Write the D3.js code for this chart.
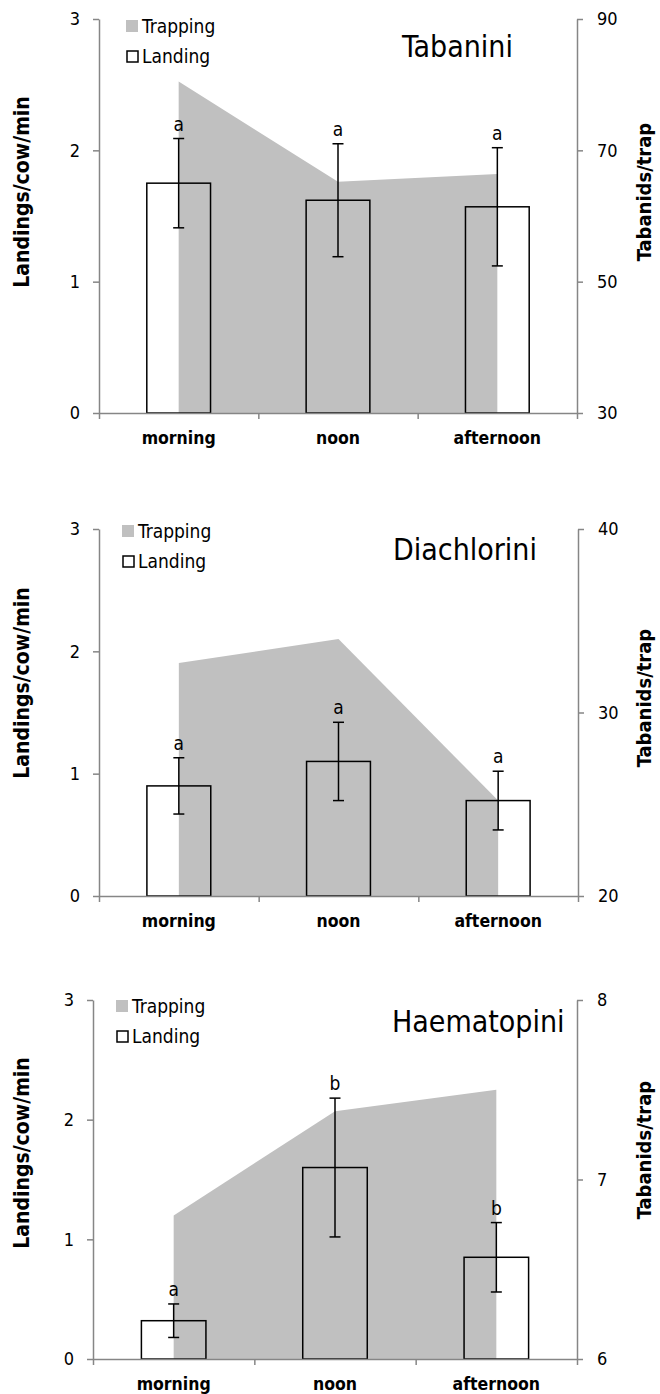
<!DOCTYPE html>
<html>
<head>
<meta charset="utf-8">
<script src="https://cdn.jsdelivr.net/npm/d3@7"></script>
<style>
  html, body { margin: 0; padding: 0; background: #ffffff; }
  svg { display: block; }
  text { font-family: "DejaVu Sans Condensed", "DejaVu Sans", sans-serif; font-stretch: condensed; fill: #000; }
</style>
</head>
<body>
<svg id="chart" width="660" height="1394"></svg>
<script>
// ---------------- data ----------------
const categories = ["morning", "noon", "afternoon"];
const leftTicks = [0, 1, 2, 3];

const tabaniniLanding = [1.75, 1.62, 1.57];
const tabaniniError   = [0.34, 0.43, 0.45];
const tabaniniTrap    = [80.5, 65.2, 66.4];
const tabaniniLetters = ["a", "a", "a"];
const tabaniniRightTicks = [30, 50, 70, 90];

const diachLanding = [0.90, 1.10, 0.78];
const diachError   = [0.23, 0.32, 0.24];
const diachTrap    = [32.7, 34.0, 25.2];
const diachLetters = ["a", "a", "a"];
const diachRightTicks = [20, 30, 40];

const haemLanding = [0.32, 1.60, 0.85];
const haemError   = [0.14, 0.58, 0.29];
const haemTrap    = [6.8, 7.38, 7.5];
const haemLetters = ["a", "b", "b"];
const haemRightTicks = [6, 7, 8];

const titles = ["Tabanini", "Diachlorini", "Haematopini"];
const legendLabels = ["Trapping", "Landing"];
const leftAxisTitle = "Landings/cow/min";
const rightAxisTitle = "Tabanids/trap";

// ---------------- layout (positions / styles) ----------------
const layouts = [
  { left: 99, right: 577, top: 19,   bottom: 413,  titleX: 402, titleY: 57,   legX: 126, legY: 19,   ltC: 192,  rtC: 192 },
  { left: 99, right: 578, top: 529,  bottom: 896,  titleX: 393, titleY: 560,  legX: 122, legY: 524,  ltC: 683,  rtC: 698 },
  { left: 93, right: 577, top: 1000, bottom: 1359, titleX: 392, titleY: 1032, legX: 116, legY: 999,  ltC: 1153, rtC: 1150 }
];
const panelsData = [
  { landing: tabaniniLanding, err: tabaniniError, trap: tabaniniTrap, letters: tabaniniLetters, rTicks: tabaniniRightTicks, title: titles[0] },
  { landing: diachLanding,    err: diachError,    trap: diachTrap,    letters: diachLetters,    rTicks: diachRightTicks,    title: titles[1] },
  { landing: haemLanding,     err: haemError,     trap: haemTrap,     letters: haemLetters,     rTicks: haemRightTicks,     title: titles[2] }
];

const AREA = "#c0c0c0";
const AXIS = "#868686";

const svg = d3.select("#chart");

panelsData.forEach((p, i) => {
  const L = layouts[i];
  const g = svg.append("g");

  const x = d3.scaleBand().domain(categories).range([L.left, L.right]).padding(0);
  const xb = d3.scaleLinear().domain([0, categories.length]).range([L.left, L.right]);
  const yL = d3.scaleLinear().domain([0, 3]).range([L.bottom, L.top]);
  const yR = d3.scaleLinear().domain(d3.extent(p.rTicks)).range([L.bottom, L.top]);
  const cx = c => x(c) + x.bandwidth() / 2;
  const barW = x.bandwidth() * 0.4;

  // trapping area (right axis)
  const area = d3.area()
    .x((d, k) => cx(categories[k]))
    .y0(yR(yR.domain()[0]))
    .y1(d => yR(d));
  g.append("path").datum(p.trap).attr("d", area).attr("fill", AREA);

  // landing bars (outlined, transparent)
  g.selectAll("rect.bar").data(p.landing).enter().append("rect")
    .attr("class", "bar")
    .attr("x", (d, k) => cx(categories[k]) - barW / 2)
    .attr("y", d => yL(d))
    .attr("width", barW)
    .attr("height", d => yL(0) - yL(d))
    .attr("fill", "none")
    .attr("stroke", "#000")
    .attr("stroke-width", 1.5);

  // error bars
  const capW = 11;
  p.landing.forEach((v, k) => {
    const xc = cx(categories[k]);
    const y1 = yL(v + p.err[k]), y0 = yL(v - p.err[k]);
    g.append("line").attr("x1", xc).attr("x2", xc).attr("y1", y1).attr("y2", y0)
      .attr("stroke", "#000").attr("stroke-width", 1.5);
    [y1, y0].forEach(yy => g.append("line")
      .attr("x1", xc - capW / 2).attr("x2", xc + capW / 2).attr("y1", yy).attr("y2", yy)
      .attr("stroke", "#000").attr("stroke-width", 1.5));
    g.append("text").attr("x", xc).attr("y", y1 - 8)
      .attr("text-anchor", "middle").style("font-size", "19px").text(p.letters[k]);
  });

  // left axis
  const axL = g.append("g").attr("transform", `translate(${L.left},0)`)
    .call(d3.axisLeft(yL).tickValues(leftTicks).tickFormat(d3.format("d")).tickSize(6).tickSizeOuter(0).tickPadding(13));
  // right axis
  const axR = g.append("g").attr("transform", `translate(${L.right},0)`)
    .call(d3.axisRight(yR).tickValues(p.rTicks).tickFormat(d3.format("d")).tickSize(6).tickSizeOuter(0).tickPadding(14));
  // bottom axis (boundary ticks)
  const axB = g.append("g").attr("transform", `translate(0,${L.bottom})`)
    .call(d3.axisBottom(xb).tickValues(d3.range(categories.length + 1)).tickFormat("").tickSize(6).tickSizeOuter(0));

  [axL, axR, axB].forEach(a => {
    a.select(".domain").attr("stroke", AXIS).attr("stroke-width", 1.5);
    a.selectAll(".tick line").attr("stroke", AXIS).attr("stroke-width", 1.5);
    a.selectAll(".tick text").style("font-size", "18px").attr("fill", "#000")
      .style("font-family", '"DejaVu Sans Condensed", "DejaVu Sans", sans-serif');
  });

  // category labels
  g.selectAll("text.cat").data(categories).enter().append("text")
    .attr("class", "cat")
    .attr("x", d => cx(d)).attr("y", L.bottom + 31)
    .attr("text-anchor", "middle")
    .style("font-size", "17.5px").style("font-weight", "bold")
    .text(d => d);

  // axis titles
  g.append("text")
    .attr("transform", `translate(29,${L.ltC}) rotate(-90)`)
    .attr("text-anchor", "middle")
    .style("font-size", "21px").style("font-weight", "bold")
    .text(leftAxisTitle);
  g.append("text")
    .attr("transform", `translate(651,${L.rtC}) rotate(-90)`)
    .attr("text-anchor", "middle")
    .style("font-size", "20px").style("font-weight", "bold")
    .text(rightAxisTitle);

  // panel title
  g.append("text").attr("x", L.titleX).attr("y", L.titleY)
    .style("font-size", "30px").text(p.title);

  // legend
  g.append("rect").attr("x", L.legX).attr("y", L.legY + 1).attr("width", 12).attr("height", 12).attr("fill", AREA);
  g.append("text").attr("x", L.legX + 16).attr("y", L.legY + 14).style("font-size", "19px").text(legendLabels[0]);
  g.append("rect").attr("x", L.legX + 1).attr("y", L.legY + 32).attr("width", 11).attr("height", 11)
    .attr("fill", "#fff").attr("stroke", "#000").attr("stroke-width", 1.5);
  g.append("text").attr("x", L.legX + 16).attr("y", L.legY + 44).style("font-size", "19px").text(legendLabels[1]);
});
</script>
</body>
</html>
